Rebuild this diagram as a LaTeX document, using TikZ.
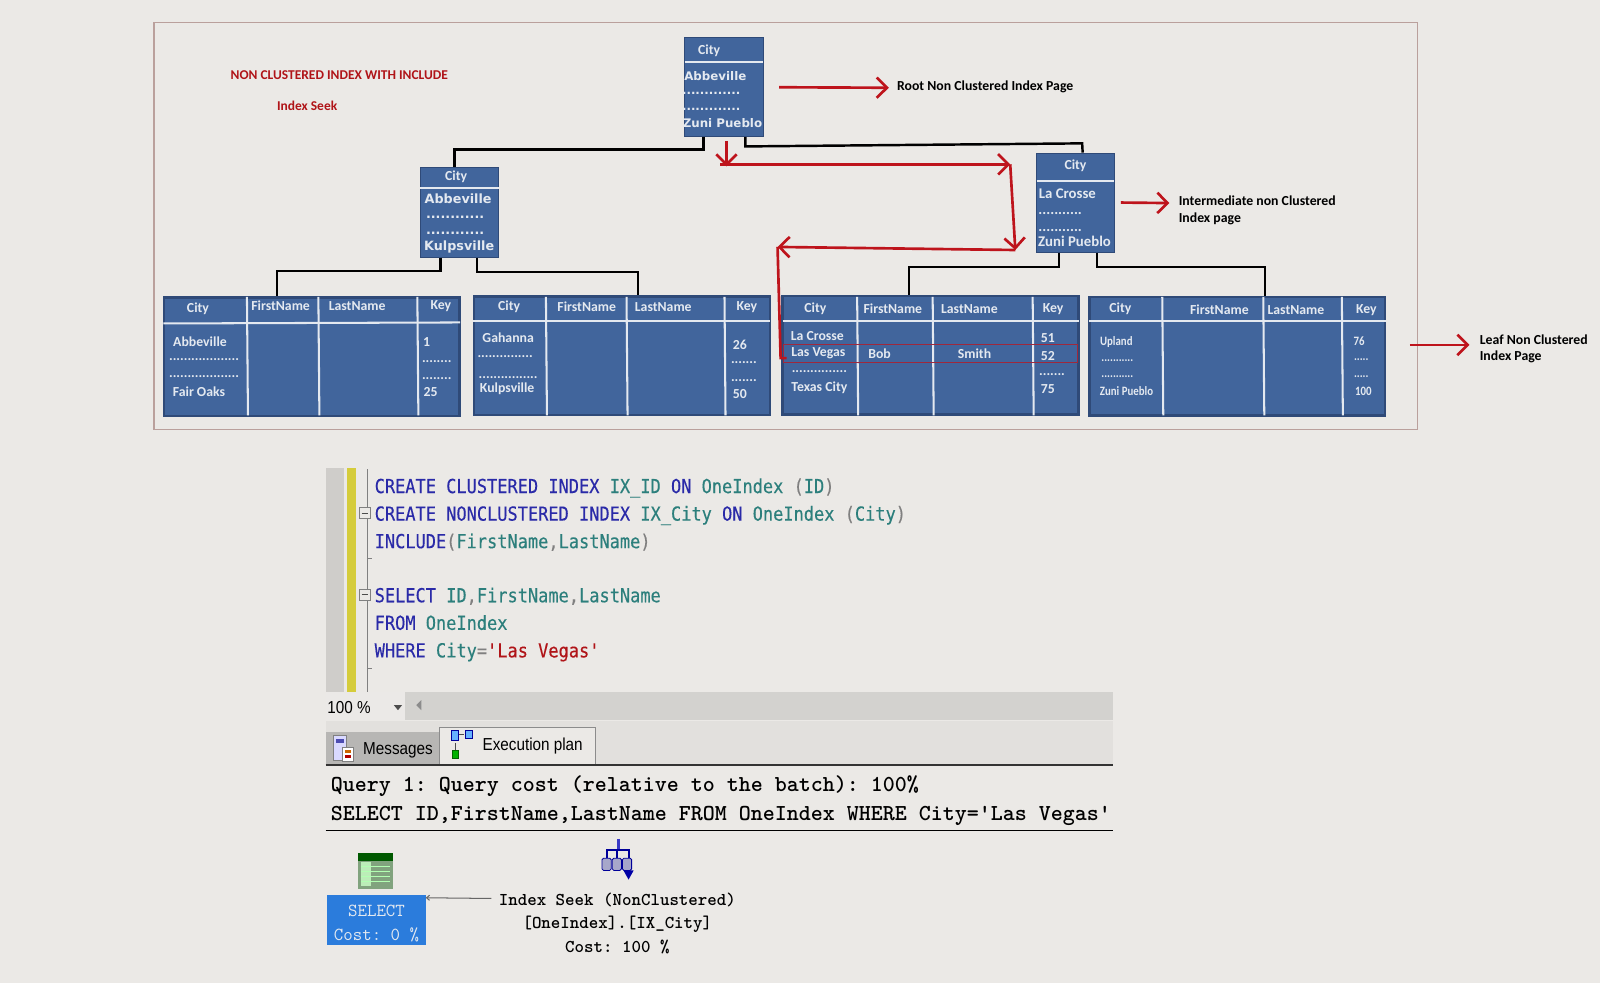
\documentclass[tikz,border=0pt]{standalone}
\usepackage{fontspec}
\usepackage{xcolor}
\usetikzlibrary{arrows.meta,positioning,calc}
\setmainfont{Carlito}
\newfontfamily\codefont[FakeStretch=0.88,FakeBold=0.3]{DejaVu Sans Mono}
\newfontfamily\widefont{DejaVu Sans}
\newfontfamily\tabfont[FakeStretch=0.88]{Liberation Sans}
\newfontfamily\narrowfont[FakeStretch=0.85]{Carlito}
\definecolor{paper}{HTML}{EBE9E6}
\definecolor{pgblue}{HTML}{41659C}
\definecolor{pgedge}{HTML}{2F4A78}
\definecolor{cellwhite}{HTML}{E4E9F0}
\definecolor{redline}{HTML}{BE141C}
\definecolor{framec}{HTML}{BAA09C}
\definecolor{kwblue}{HTML}{2A2AA8}
\definecolor{objteal}{HTML}{2C7F7C}
\definecolor{strred}{HTML}{B01418}
\definecolor{selblue}{HTML}{2B7CDC}
\newcommand{\kw}[1]{\textcolor{kwblue}{#1}}
\newcommand{\ob}[1]{\textcolor{objteal}{#1}}
\newcommand{\gy}[1]{\textcolor{gray}{#1}}

\begin{document}
\begin{tikzpicture}[
  x=1pt, y=-1pt,
  pagebox/.style={draw=pgedge, line width=1pt, fill=pgblue, inner sep=0pt},
  leafbox/.style={draw=pgedge, line width=2.5pt, fill=pgblue, inner sep=0pt,
                  minimum width=290pt, minimum height=116pt},
  sep/.style={draw=cellwhite, line width=2pt},
  lnk/.style={draw=black, line width=2.4pt},
  redarr/.style={draw=redline, line width=2.6pt,
                 -{Straight Barb[length=10pt,width=20pt,line width=2.6pt]}},
  cell/.style={text=cellwhite, font=\fontsize{13.5}{14}\selectfont\bfseries, inner sep=0pt, yshift=-.6pt},
  wide/.style={text=cellwhite, font=\fontsize{12.5}{14}\widefont\bfseries, inner sep=0pt, yshift=-.5pt},
  note/.style={text=black, font=\fontsize{13.5}{16}\selectfont\bfseries, align=left, inner sep=0pt, anchor=west, yshift=-1pt},
  title/.style={text=strred, font=\fontsize{13.2}{16}\selectfont\bfseries, inner sep=0pt, yshift=-1pt},
  code/.style={font=\fontsize{18.9}{20}\codefont, inner sep=0pt, anchor=west, yshift=-1.5pt,
               text height=14.4pt, text depth=3pt},
  res/.style={font=\fontsize{22.4}{24}\ttfamily\bfseries\frenchspacing, inner sep=0pt, anchor=west, yshift=-2.5pt},
  plan/.style={font=\fontsize{17.7}{20}\ttfamily\bfseries\frenchspacing, inner sep=0pt, yshift=-1pt},
  tabtxt/.style={font=\fontsize{17}{20}\tabfont, inner sep=0pt},
]

\useasboundingbox (0,0) rectangle (1568,963);
\fill[paper] (0,0) rectangle (1568,963);
\draw[draw=framec, line width=1.2pt] (151,22) rectangle (1389,421);

\node[title] (head1) at (332.5,73) {NON CLUSTERED INDEX WITH INCLUDE};
\node[title] (head2) at (301,103) {Index Seek};

% index pages
\node[pagebox, minimum width=77pt, minimum height=97pt] (rootpg) at (709.5,85.5) {};
\node[pagebox, minimum width=77pt, minimum height=88pt] (leftpg) at (450.5,208) {};
\node[pagebox, minimum width=76pt, minimum height=97pt] (rightpg) at (1054,198.5) {};
\draw[sep] (671,61) -- (748,61);
\draw[sep] (412,184) -- (489,184);
\draw[sep] (1016,177) -- (1092,177);

\foreach \x/\y/\t [count=\i] in {695/49/City, 1054/162/City, 447/173/City}
  \node[cell] (pgt\i) at (\x,\y) {\t};
\foreach \x/\y/\t [count=\i] in {1046/189/La Crosse, 1039/209/{...........}, 1039/225/{...........}, 1053/236/Zuni Pueblo}
  \node[cell, font=\fontsize{14.5}{16}\selectfont\bfseries] (pgr\i) at (\x,\y) {\t};
\foreach \x/\y/\t [count=\i] in {701/74/Abbeville, 697/91/{.............}, 697/107/{.............}, 708/120/Zuni Pueblo}
  \node[wide, font=\fontsize{11.6}{14}\widefont\bfseries] (pgw\i) at (\x,\y) {\t};
\foreach \x/\y/\t [count=\i] in {449/194/Abbeville, 446/212/{............}, 446/228/{............}, 450/242/Kulpsville}
  \node[wide] (pgk\i) at (\x,\y) {\t};

% leaf pages
\node[leafbox] (leafa) at (305.5,349.5) {};
\node[leafbox] (leafb) at (609.5,348.5) {};
\node[leafbox] (leafc) at (912,348) {};
\node[leafbox] (leafd) at (1212.5,349) {};
\draw[sep] (160,317) -- (451,316);
\draw[sep] (464,315) -- (755,315);
\draw[sep] (767,315) -- (1057,315);
\draw[sep] (1067,315) -- (1358,315);
\foreach \x in {242,312,409,535,614,710,840,914,1012,1139,1238,1315}
  \draw[sep] (\x,291) -- (\x+1,407);

\foreach \x/\y/\t [count=\i] in {194/302/City, 275/299/FirstName, 350/299/LastName, 432/299/Key,
    196/334/Abbeville, 200/352/{...................}, 200/368/{...................}, 195/383/Fair Oaks,
    418/335/1, 428/354/{........}, 428/370/{........}, 422/384/25,
    499/300/City, 575/300/FirstName, 650/300/LastName, 732/300/Key,
    498/330/Gahanna, 495/349/{...............}, 498/369/{................}, 497/380/Kulpsville,
    725/337/26, 729/355/{.......}, 729/372/{.......}, 725/386/50,
    799/302/City, 875/302/FirstName, 950/302/LastName, 1032/302/Key,
    801/329/La Crosse, 802/346/Las Vegas, 862/346/Bob, 955/346/Smith,
    803/364/{...............}, 803/379/Texas City,
    1027/331/51, 1027/348/52, 1031/366/{.......}, 1027/381/75,
    1098/302/City, 1195/303/FirstName, 1270/303/LastName, 1339/303/Key}
  \node[cell] (lf\i) at (\x,\y) {\t};
\foreach \x/\y/\t [count=\i] in {1094/335/Upland, 1095/353/{...........}, 1095/369/{...........}, 1104/383/Zuni Pueblo,
    1332/334/76, 1334/352/{.....}, 1334/369/{.....}, 1336/383/100}
  \node[cell, font=\fontsize{12.5}{14}\narrowfont\bfseries] (lg\i) at (\x,\y) {\t};
\draw[draw=redline!75!pgblue, line width=1pt] (768,338) rectangle (1056,355);

% black links
\draw[lnk] ([xshift=-20pt]rootpg.south) -- ++(0,12) -| ([xshift=-5pt]leftpg.north);
\draw[lnk] ([xshift=21pt]rootpg.south) -- ++(0,9) -- ++(330,-3) -- ([xshift=7pt]rightpg.north);
\draw[lnk] ([xshift=-19pt]leftpg.south) -- ++(0,13) -| ([xshift=-34pt]leafa.north);
\draw[lnk] ([xshift=17pt]leftpg.south) -- ++(0,14) -| ([xshift=16pt]leafb.north);
\draw[lnk] ([xshift=-16pt]rightpg.south) -- ++(0,14) -| ([xshift=-21pt]leafc.north);
\draw[lnk] ([xshift=21pt]rightpg.south) -- ++(0,14) -| ([xshift=27pt]leafd.north);

% seek route
\coordinate (rta) at (712,138);
\coordinate (rtb) at (706,161);
\coordinate (rtc) at (990,161);
\coordinate (rtd) at (995,245);
\coordinate (rte) at (762,242);
\coordinate (rtf) at (765,351);
\draw[redarr] (rta) -- (712,163);
\draw[redarr] (rtb) -- (rtc);
\draw[redarr] (rtc) -- (rtd);
\draw[redarr] (rtd) -- (rte);
\draw[draw=redline, line width=2.6pt] (rte) -- (rtf) -- ++(6,0);

% page labels
\node[note] (rootlbl) at (879,84) {Root Non Clustered Index Page};
\node[note] (midlbl) at (1155,205) {Intermediate non Clustered\\Index page};
\node[note] (leaflbl) at (1450,341) {Leaf Non Clustered\\Index Page};
\draw[redarr] ([xshift=15pt]rootpg.east) -- ([xshift=-8pt,yshift=-1pt]rootlbl.west);
\draw[redarr] ([xshift=6pt]rightpg.east) -- ([xshift=-9pt,yshift=7pt]midlbl.west);
\draw[redarr] ([xshift=23pt,yshift=11pt]leafd.east) -- ([xshift=-10pt,yshift=4pt]leaflbl.west);

% editor
\fill[black!12!paper] (319,459) rectangle (337,678);
\fill[yellow!80!black!90!paper] (340,459) rectangle (349,678);
\draw[gray, line width=1pt] (360,460) -- (360,678);
\draw[gray, line width=1pt] (360,547) -- ++(5,0) (360,655) -- ++(5,0);
\node[code] (sqla) at (367,476) {\kw{CREATE CLUSTERED INDEX} \ob{IX\_ID} \kw{ON} \ob{OneIndex} \gy{(}\ob{ID}\gy{)}};
\node[code] (sqlb) at (367,503) {\kw{CREATE NONCLUSTERED INDEX} \ob{IX\_City} \kw{ON} \ob{OneIndex} \gy{(}\ob{City}\gy{)}};
\node[code] (sqlc) at (367,530) {\kw{INCLUDE}\gy{(}\ob{FirstName}\gy{,}\ob{LastName}\gy{)}};
\node[code] (sqld) at (367,583) {\kw{SELECT} \ob{ID}\gy{,}\ob{FirstName}\gy{,}\ob{LastName}};
\node[code] (sqle) at (367,610) {\kw{FROM} \ob{OneIndex}};
\node[code] (sqlf) at (367,637) {\kw{WHERE} \ob{City}\gy{=}\textcolor{strred}{'Las Vegas'}};
\foreach \y in {503,583} {
  \draw[fill=paper, draw=gray, line width=1pt] (352,\y-5.5) rectangle (363,\y+5.5);
  \draw[black!70, line width=1pt] (354.5,\y) -- (360.5,\y);
}

% tool bar and tabs
\fill[black!10!paper] (319,678) rectangle (1091,706);
\fill[black!4!paper] (319,707) rectangle (1091,749);
\fill[paper!98!white] (319,678) rectangle (397,706);
\node[tabtxt] (zoomtxt) at (342,693) {100 \%};
\fill[black!70] (386,691) -- (394,691) -- (390,696) -- cycle;
\fill[black!45] (408,691) -- (413,686) -- (413,696) -- cycle;
\fill[black!22!paper] (319,717) rectangle (431,749);
\draw[black!45, fill=paper, line width=1pt] (431,749) -- (431,713) -- (584,713) -- (584,749);
\node[tabtxt] (msgtab) at (390,735) {Messages};
\node[tabtxt] (plantab) at (522,731) {Execution plan};
\draw[black!80, line width=2pt] (319,750) -- (1091,750);
% tab icons
\draw[black!50, fill=white!85!blue, line width=.8pt] (327,721) rectangle (339,745);
\draw[black!50, fill=white, line width=.8pt] (336,732) rectangle (346,746);
\fill[blue!40!gray] (329,724) rectangle (337,728);
\fill[orange!80!black] (338,735) rectangle (344,738);
\fill[red!70!black] (338,740) rectangle (344,743);
\draw[blue!60!black, fill=blue!50!cyan!60, line width=.8pt] (442,716) rectangle (449,726);
\draw[blue!60!black, fill=blue!50!cyan!60, line width=.8pt] (456,716) rectangle (463,724);
\draw[green!40!black, fill=green!70!black, line width=.8pt] (443,735) rectangle (449,743);
\draw[black!70, line width=.8pt] (446,728) -- (446,735) (450,720) -- (455,720);

% results
\node[res] (qrya) at (324,768) {Query 1: Query cost (relative to the batch): 100\%};
\node[res] (qryb) at (324,797) {SELECT ID,FirstName,LastName FROM OneIndex WHERE City='Las Vegas'};
\draw[black, line width=1.5pt] (319,814) -- (1091,814);

% plan
\node[draw=none, fill=selblue, minimum width=97pt, minimum height=49pt, inner sep=0pt] (selbox) at (368.5,901.5) {};
\node[plan, text=cellwhite, font=\fontsize{18}{20}\ttfamily\frenchspacing] (seltxta) at (369,892) {SELECT};
\node[plan, text=cellwhite, font=\fontsize{18}{20}\ttfamily\frenchspacing] (seltxtb) at (369,915) {Cost: 0 \%};
\node[plan] (seeka) at (605,881) {Index Seek (NonClustered)};
\node[plan] (seekb) at (605,905) {[OneIndex].[IX\_City]};
\node[plan] (seekc) at (605,927) {Cost: 100 \%};
\draw[black!60, line width=1pt, -{Straight Barb[length=3pt,width=5pt]}] ([xshift=-7pt,yshift=1.5pt]seeka.west) -- ([yshift=-3pt]selbox.north east);
% table icon
\fill[green!30!black!45!paper] (351,836) rectangle (385,871);
\fill[green!35!black] (351,836) rectangle (385,844);
\fill[green!20!paper] (354,845) rectangle (364,868);
\foreach \y in {849,854,859,864} \draw[white!70!green, line width=.6pt] (354,\y) -- (382,\y);
% seek icon
\draw[blue!55!gray, line width=3pt] (606,822) -- (606,833);
\draw[blue!60!black, line width=2pt] (595,841) -- (595,833) -- (616,833) -- (616,855) (605,833) -- (605,841);
\foreach \x in {590,600,610} \draw[blue!60!black, fill=blue!25!gray!55, rounded corners=1.5pt, line width=.8pt] (\x,841) rectangle (\x+9,853);
\fill[blue!65!black] (611,853) -- (621,853) -- (616,862) -- cycle;
\end{tikzpicture}
\end{document}
